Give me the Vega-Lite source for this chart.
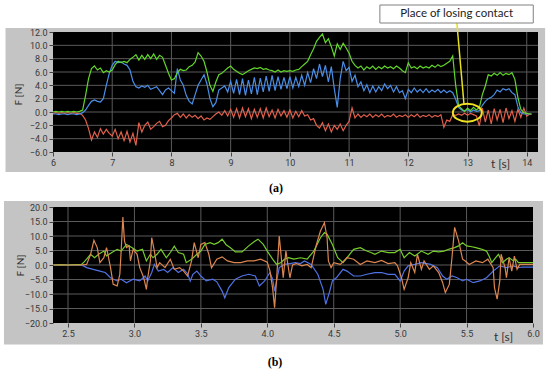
{
"$schema": "https://vega.github.io/schema/vega-lite/v6.json",
"background": "white",
"padding": {"left": 3, "top": 4, "right": 0, "bottom": 0},
"bounds": "flush",
"spacing": 55,
"config": {
  "view": {"stroke": null},
  "axis": {"domain": false, "grid": false, "labelFont": "Roboto", "labelFontSize": 9, "labelColor": "#383838", "tickColor": "#444444", "tickSize": 4, "labelPadding": 2, "titleFont": "Lato", "titleColor": "#333333", "titleFontWeight": "normal", "labelFlush": false, "labelOverlap": false}
},
"datasets": {
  "A": [
    {"t":6.00,"g":0.0,"b":-0.3,"r":-0.2},{"t":6.05,"g":0.1,"b":-0.3,"r":-0.1},{"t":6.10,"g":0.0,"b":-0.4,"r":-0.2},{"t":6.15,"g":0.1,"b":-0.3,"r":-0.1},
    {"t":6.20,"g":0.0,"b":-0.3,"r":-0.2},{"t":6.25,"g":0.1,"b":-0.4,"r":-0.1},{"t":6.30,"g":0.0,"b":-0.3,"r":-0.2},{"t":6.35,"g":0.1,"b":-0.3,"r":-0.1},
    {"t":6.40,"g":0.0,"b":-0.4,"r":-0.2},{"t":6.45,"g":0.1,"b":-0.3,"r":-0.2},{"t":6.50,"g":0.3,"b":-0.1,"r":-0.5},{"t":6.55,"g":2.5,"b":0.3,"r":-1.2},
    {"t":6.60,"g":5.0,"b":1.0,"r":-2.5},{"t":6.65,"g":6.5,"b":1.6,"r":-4.2},{"t":6.70,"g":6.9,"b":1.8,"r":-3.0},{"t":6.75,"g":6.3,"b":1.6,"r":-3.8},
    {"t":6.80,"g":6.6,"b":1.5,"r":-2.5},{"t":6.85,"g":5.9,"b":2.0,"r":-3.3},{"t":6.90,"g":6.2,"b":4.0,"r":-2.6},{"t":6.95,"g":6.0,"b":5.8,"r":-3.2},
    {"t":7.00,"g":6.3,"b":7.0,"r":-3.6},{"t":7.05,"g":7.1,"b":7.6,"r":-2.6},{"t":7.10,"g":7.6,"b":7.4,"r":-4.0},{"t":7.15,"g":7.4,"b":7.5,"r":-3.0},
    {"t":7.20,"g":7.6,"b":7.2,"r":-4.3},{"t":7.25,"g":7.4,"b":7.0,"r":-2.9},{"t":7.30,"g":7.9,"b":6.3,"r":-4.5},{"t":7.35,"g":8.2,"b":4.6,"r":-3.2},
    {"t":7.40,"g":8.6,"b":3.8,"r":-5.0},{"t":7.45,"g":7.8,"b":3.6,"r":-1.6},{"t":7.50,"g":8.5,"b":3.9,"r":-3.0},{"t":7.55,"g":7.9,"b":3.7,"r":-2.0},
    {"t":7.60,"g":8.6,"b":4.0,"r":-1.5},{"t":7.65,"g":8.0,"b":3.4,"r":-2.6},{"t":7.70,"g":8.7,"b":3.6,"r":-2.2},{"t":7.75,"g":7.9,"b":3.8,"r":-1.7},
    {"t":7.80,"g":8.5,"b":3.2,"r":-1.4},{"t":7.85,"g":8.2,"b":2.6,"r":-2.2},{"t":7.90,"g":7.0,"b":3.3,"r":-2.0},{"t":7.95,"g":5.8,"b":3.6,"r":-1.3},
    {"t":8.00,"g":4.8,"b":3.2,"r":-0.9},{"t":8.05,"g":5.0,"b":2.8,"r":-0.4},{"t":8.10,"g":5.9,"b":6.5,"r":-0.2},{"t":8.15,"g":6.4,"b":4.8,"r":-0.8},
    {"t":8.20,"g":6.2,"b":4.0,"r":-0.3},{"t":8.25,"g":6.3,"b":2.5,"r":-0.9},{"t":8.30,"g":6.8,"b":1.6,"r":-0.4},{"t":8.35,"g":7.0,"b":1.2,"r":-0.8},
    {"t":8.40,"g":7.5,"b":2.6,"r":-0.5},{"t":8.45,"g":8.9,"b":4.0,"r":-1.0},{"t":8.50,"g":8.4,"b":4.8,"r":-0.6},{"t":8.55,"g":7.6,"b":5.6,"r":-1.2},
    {"t":8.60,"g":6.0,"b":4.2,"r":-0.9},{"t":8.65,"g":4.0,"b":2.0,"r":-1.1},{"t":8.70,"g":3.1,"b":0.8,"r":-0.7},{"t":8.75,"g":4.5,"b":1.4,"r":-0.3},
    {"t":8.80,"g":5.6,"b":3.3,"r":0.0},{"t":8.85,"g":5.8,"b":3.6,"r":-0.5},{"t":8.90,"g":6.2,"b":3.9,"r":0.2},{"t":8.95,"g":6.6,"b":3.0,"r":-0.6},
    {"t":9.00,"g":6.9,"b":4.6,"r":0.4},{"t":9.05,"g":6.4,"b":2.8,"r":-0.8},{"t":9.10,"g":6.1,"b":4.9,"r":0.5},{"t":9.15,"g":5.8,"b":2.6,"r":-0.9},
    {"t":9.20,"g":5.6,"b":5.0,"r":0.6},{"t":9.25,"g":5.9,"b":2.5,"r":-0.7},{"t":9.30,"g":6.2,"b":4.8,"r":0.5},{"t":9.35,"g":6.4,"b":2.7,"r":-1.0},
    {"t":9.40,"g":6.6,"b":5.2,"r":0.4},{"t":9.45,"g":6.5,"b":2.6,"r":-0.8},{"t":9.50,"g":6.7,"b":5.1,"r":0.5},{"t":9.55,"g":6.4,"b":3.0,"r":-0.9},
    {"t":9.60,"g":6.5,"b":5.4,"r":0.6},{"t":9.65,"g":6.3,"b":3.1,"r":-0.7},{"t":9.70,"g":6.2,"b":5.5,"r":0.3},{"t":9.75,"g":6.0,"b":3.2,"r":-0.9},
    {"t":9.80,"g":6.3,"b":5.3,"r":0.4},{"t":9.85,"g":6.0,"b":3.4,"r":-0.6},{"t":9.90,"g":6.2,"b":5.2,"r":0.2},{"t":9.95,"g":6.1,"b":3.5,"r":-0.8},
    {"t":10.00,"g":6.2,"b":5.3,"r":0.3},{"t":10.05,"g":6.1,"b":3.6,"r":-0.9},{"t":10.10,"g":6.3,"b":5.2,"r":0.1},{"t":10.15,"g":6.4,"b":3.8,"r":-0.7},
    {"t":10.20,"g":6.8,"b":5.5,"r":0.2},{"t":10.25,"g":7.2,"b":4.0,"r":-0.6},{"t":10.30,"g":7.6,"b":5.9,"r":-0.4},{"t":10.35,"g":8.6,"b":4.4,"r":-1.2},
    {"t":10.40,"g":9.5,"b":6.5,"r":-1.0},{"t":10.45,"g":10.6,"b":5.0,"r":-2.0},{"t":10.50,"g":11.2,"b":7.2,"r":-2.4},{"t":10.55,"g":11.7,"b":5.3,"r":-1.6},
    {"t":10.60,"g":10.4,"b":7.0,"r":-2.8},{"t":10.65,"g":11.0,"b":4.5,"r":-1.8},{"t":10.70,"g":9.8,"b":6.8,"r":-3.0},{"t":10.75,"g":8.4,"b":3.5,"r":-2.0},
    {"t":10.80,"g":10.2,"b":0.7,"r":-2.6},{"t":10.85,"g":9.4,"b":5.0,"r":-1.8},{"t":10.90,"g":10.3,"b":7.6,"r":-2.8},{"t":10.95,"g":9.6,"b":6.2,"r":-2.0},
    {"t":11.00,"g":8.8,"b":6.7,"r":-1.4},{"t":11.05,"g":7.6,"b":4.6,"r":0.6},{"t":11.10,"g":7.0,"b":5.5,"r":-0.9},{"t":11.15,"g":6.6,"b":3.8,"r":-0.3},
    {"t":11.20,"g":6.9,"b":4.5,"r":-0.8},{"t":11.25,"g":6.3,"b":3.2,"r":-0.4},{"t":11.30,"g":6.8,"b":4.1,"r":-0.7},{"t":11.35,"g":6.5,"b":2.9,"r":-0.3},
    {"t":11.40,"g":6.9,"b":3.9,"r":-0.8},{"t":11.45,"g":6.4,"b":3.0,"r":-0.4},{"t":11.50,"g":6.8,"b":3.8,"r":-0.7},{"t":11.55,"g":6.5,"b":3.2,"r":-0.3},
    {"t":11.60,"g":6.9,"b":4.2,"r":-0.8},{"t":11.65,"g":6.6,"b":3.5,"r":-0.5},{"t":11.70,"g":6.8,"b":4.0,"r":-0.7},{"t":11.75,"g":6.5,"b":3.0,"r":-0.3},
    {"t":11.80,"g":6.9,"b":3.8,"r":-0.8},{"t":11.85,"g":6.6,"b":2.9,"r":-0.5},{"t":11.90,"g":6.2,"b":3.2,"r":-0.7},{"t":11.95,"g":5.9,"b":2.0,"r":-0.4},
    {"t":12.00,"g":7.4,"b":3.4,"r":-0.8},{"t":12.05,"g":6.6,"b":2.9,"r":-0.4},{"t":12.10,"g":6.8,"b":3.6,"r":-0.7},{"t":12.15,"g":6.5,"b":3.0,"r":-0.3},
    {"t":12.20,"g":6.9,"b":3.4,"r":-0.8},{"t":12.25,"g":6.6,"b":2.9,"r":-0.5},{"t":12.30,"g":6.8,"b":3.5,"r":-0.7},{"t":12.35,"g":6.6,"b":2.9,"r":-0.4},
    {"t":12.40,"g":7.0,"b":3.3,"r":-0.8},{"t":12.45,"g":6.7,"b":3.0,"r":-0.5},{"t":12.50,"g":7.1,"b":3.4,"r":-0.7},{"t":12.55,"g":6.8,"b":2.9,"r":-0.4},
    {"t":12.60,"g":7.0,"b":3.3,"r":-2.3},{"t":12.65,"g":7.3,"b":2.9,"r":-1.2},{"t":12.70,"g":7.6,"b":3.2,"r":-1.4},{"t":12.75,"g":8.4,"b":2.9,"r":-0.4},
    {"t":12.80,"g":4.0,"b":1.9,"r":-0.5},{"t":12.85,"g":0.9,"b":0.7,"r":-0.3},{"t":12.90,"g":0.5,"b":0.3,"r":-0.5},{"t":12.95,"g":0.1,"b":0.1,"r":-0.2},
    {"t":13.00,"g":0.6,"b":0.4,"r":-0.5},{"t":13.05,"g":0.2,"b":0.0,"r":-0.2},{"t":13.10,"g":0.7,"b":0.3,"r":-0.4},{"t":13.15,"g":0.3,"b":0.1,"r":-0.6},
    {"t":13.20,"g":0.7,"b":0.2,"r":-2.1},{"t":13.25,"g":2.6,"b":1.0,"r":0.6},{"t":13.30,"g":3.9,"b":1.6,"r":-1.5},{"t":13.35,"g":5.6,"b":2.0,"r":0.3},
    {"t":13.40,"g":5.4,"b":2.2,"r":-1.8},{"t":13.45,"g":5.8,"b":2.6,"r":0.5},{"t":13.50,"g":5.5,"b":3.3,"r":-1.2},{"t":13.55,"g":5.9,"b":3.0,"r":0.4},
    {"t":13.60,"g":5.5,"b":3.5,"r":-1.6},{"t":13.65,"g":5.8,"b":3.3,"r":0.6},{"t":13.70,"g":5.6,"b":3.5,"r":-1.0},{"t":13.75,"g":5.9,"b":2.9,"r":0.2},
    {"t":13.80,"g":4.9,"b":2.6,"r":-1.4},{"t":13.85,"g":2.2,"b":0.8,"r":0.4},{"t":13.90,"g":0.4,"b":-0.1,"r":-0.8},{"t":13.95,"g":-0.1,"b":-0.3,"r":0.6},
    {"t":14.00,"g":-0.2,"b":-0.3,"r":-0.6},{"t":14.05,"g":-0.3,"b":-0.3,"r":-0.3},{"t":14.08,"g":-0.3,"b":-0.3,"r":-0.3}
  ],
  "bG": [
    {"t":2.39,"F":0},{"t":2.45,"F":0.1},{"t":2.5,"F":0},{"t":2.55,"F":0.1},{"t":2.6,"F":0.1},{"t":2.62,"F":1.0},{"t":2.64,"F":2.0},{"t":2.67,"F":3.7},
    {"t":2.70,"F":2.5},{"t":2.73,"F":3.7},{"t":2.77,"F":4.8},{"t":2.79,"F":3.1},{"t":2.83,"F":4.3},{"t":2.87,"F":5.4},{"t":2.90,"F":4.8},{"t":2.94,"F":7.1},
    {"t":2.98,"F":6.0},{"t":3.02,"F":4.8},{"t":3.06,"F":5.4},{"t":3.09,"F":1.4},{"t":3.12,"F":3.7},{"t":3.14,"F":2.5},{"t":3.17,"F":3.7},{"t":3.20,"F":5.4},
    {"t":3.24,"F":2.5},{"t":3.27,"F":4.3},{"t":3.30,"F":6.5},{"t":3.33,"F":4.3},{"t":3.37,"F":3.7},{"t":3.39,"F":0.8},{"t":3.43,"F":2.0},{"t":3.47,"F":3.7},
    {"t":3.50,"F":4.8},{"t":3.53,"F":7.1},{"t":3.57,"F":7.7},{"t":3.60,"F":7.1},{"t":3.63,"F":7.7},{"t":3.66,"F":8.9},{"t":3.69,"F":7.0},{"t":3.72,"F":6.0},
    {"t":3.76,"F":4.5},{"t":3.81,"F":4.5},{"t":3.86,"F":6.6},{"t":3.90,"F":8.0},{"t":3.93,"F":8.9},{"t":3.97,"F":7.1},{"t":4.00,"F":4.8},{"t":4.04,"F":2.0},
    {"t":4.07,"F":0.2},{"t":4.10,"F":0.8},{"t":4.13,"F":2.0},{"t":4.16,"F":2.5},{"t":4.20,"F":2.0},{"t":4.25,"F":2.5},{"t":4.30,"F":2.0},{"t":4.35,"F":4.8},
    {"t":4.40,"F":9.4},{"t":4.43,"F":11.2},{"t":4.45,"F":10.6},{"t":4.49,"F":7.1},{"t":4.53,"F":2.5},{"t":4.57,"F":0.8},{"t":4.60,"F":2.5},{"t":4.65,"F":5.4},
    {"t":4.70,"F":6.0},{"t":4.74,"F":5.0},{"t":4.78,"F":4.3},{"t":4.81,"F":3.7},{"t":4.86,"F":4.8},{"t":4.91,"F":4.3},{"t":4.96,"F":4.3},{"t":5.00,"F":5.4},
    {"t":5.03,"F":2.5},{"t":5.07,"F":4.3},{"t":5.11,"F":3.1},{"t":5.16,"F":4.8},{"t":5.21,"F":3.7},{"t":5.25,"F":4.8},{"t":5.29,"F":4.5},{"t":5.33,"F":4.8},
    {"t":5.37,"F":5.5},{"t":5.41,"F":6.0},{"t":5.44,"F":6.6},{"t":5.47,"F":7.7},{"t":5.50,"F":6.6},{"t":5.54,"F":6.3},{"t":5.57,"F":6.0},{"t":5.61,"F":5.5},
    {"t":5.65,"F":4.8},{"t":5.67,"F":3.0},{"t":5.69,"F":0.8},{"t":5.71,"F":2.0},{"t":5.74,"F":3.7},{"t":5.77,"F":0.8},{"t":5.80,"F":2.0},{"t":5.82,"F":2.5},
    {"t":5.85,"F":1.5},{"t":5.87,"F":2.0},{"t":5.89,"F":0.8},{"t":5.92,"F":0.8},{"t":6.00,"F":0.8}
  ],
  "bB": [
    {"t":2.39,"F":0},{"t":2.5,"F":0},{"t":2.6,"F":0},{"t":2.62,"F":-0.4},{"t":2.64,"F":-0.9},{"t":2.69,"F":-1.5},{"t":2.74,"F":-2.1},{"t":2.78,"F":-2.6},
    {"t":2.82,"F":-4.4},{"t":2.87,"F":-5.5},{"t":2.90,"F":-4.9},{"t":2.94,"F":-6.1},{"t":2.99,"F":-4.9},{"t":3.04,"F":-5.5},{"t":3.08,"F":-3.8},{"t":3.10,"F":-5.5},
    {"t":3.13,"F":-2.6},{"t":3.15,"F":0.2},{"t":3.18,"F":-2.1},{"t":3.22,"F":-1.5},{"t":3.25,"F":-2.6},{"t":3.29,"F":-0.9},{"t":3.33,"F":-2.6},{"t":3.37,"F":-1.5},
    {"t":3.40,"F":-3.0},{"t":3.42,"F":-5.5},{"t":3.44,"F":-3.2},{"t":3.47,"F":-2.1},{"t":3.50,"F":-3.8},{"t":3.54,"F":-5.5},{"t":3.59,"F":-4.9},{"t":3.62,"F":-5.8},
    {"t":3.66,"F":-9.0},{"t":3.68,"F":-11.3},{"t":3.71,"F":-7.8},{"t":3.76,"F":-4.9},{"t":3.81,"F":-3.8},{"t":3.86,"F":-3.2},{"t":3.91,"F":-3.8},{"t":3.94,"F":-7.2},
    {"t":3.98,"F":-5.5},{"t":4.02,"F":-2.6},{"t":4.04,"F":-4.9},{"t":4.055,"F":-9.0},{"t":4.07,"F":-5.5},{"t":4.09,"F":-0.9},{"t":4.13,"F":0.2},{"t":4.17,"F":0.5},
    {"t":4.21,"F":0.8},{"t":4.25,"F":0.5},{"t":4.28,"F":1.4},{"t":4.33,"F":0.2},{"t":4.38,"F":-3.2},{"t":4.42,"F":-8.4},{"t":4.44,"F":-13.6},{"t":4.47,"F":-9.0},
    {"t":4.49,"F":-5.5},{"t":4.52,"F":-4.4},{"t":4.57,"F":-1.5},{"t":4.60,"F":-2.1},{"t":4.65,"F":-3.8},{"t":4.70,"F":-3.8},{"t":4.75,"F":-3.2},{"t":4.81,"F":-2.6},
    {"t":4.86,"F":-2.6},{"t":4.91,"F":-3.2},{"t":4.96,"F":-3.2},{"t":5.00,"F":-5.5},{"t":5.03,"F":-2.1},{"t":5.06,"F":-0.3},{"t":5.11,"F":0.2},{"t":5.16,"F":0.8},
    {"t":5.23,"F":0.2},{"t":5.28,"F":-0.9},{"t":5.32,"F":-3.8},{"t":5.35,"F":-4.9},{"t":5.39,"F":-3.8},{"t":5.43,"F":-4.4},{"t":5.47,"F":-5.5},{"t":5.50,"F":-4.9},
    {"t":5.55,"F":-6.1},{"t":5.60,"F":-5.5},{"t":5.65,"F":-4.4},{"t":5.70,"F":-2.1},{"t":5.75,"F":-0.3},{"t":5.80,"F":-0.9},{"t":5.85,"F":-0.3},{"t":5.89,"F":-0.9},
    {"t":5.92,"F":-0.7},{"t":6.00,"F":-0.7}
  ],
  "bR": [
    {"t":2.39,"F":0},{"t":2.5,"F":0},{"t":2.6,"F":0},{"t":2.64,"F":0.2},{"t":2.67,"F":3.7},{"t":2.695,"F":8.5},{"t":2.72,"F":6.0},{"t":2.74,"F":0.8},
    {"t":2.77,"F":2.5},{"t":2.79,"F":6.0},{"t":2.82,"F":-0.9},{"t":2.84,"F":-6.7},{"t":2.87,"F":-7.2},{"t":2.89,"F":-3.2},{"t":2.90,"F":4.8},{"t":2.913,"F":16.5},
    {"t":2.925,"F":8.3},{"t":2.94,"F":6.0},{"t":2.96,"F":6.6},{"t":2.97,"F":1.4},{"t":2.99,"F":5.4},{"t":3.02,"F":3.7},{"t":3.04,"F":-0.9},{"t":3.07,"F":-4.4},
    {"t":3.09,"F":-8.4},{"t":3.10,"F":-4.4},{"t":3.12,"F":1.4},{"t":3.13,"F":9.4},{"t":3.15,"F":4.8},{"t":3.17,"F":-0.9},{"t":3.19,"F":0.8},{"t":3.23,"F":-0.9},
    {"t":3.27,"F":2.0},{"t":3.30,"F":-1.5},{"t":3.34,"F":-0.9},{"t":3.37,"F":-2.1},{"t":3.40,"F":-3.8},{"t":3.43,"F":1.4},{"t":3.45,"F":7.7},{"t":3.48,"F":2.5},
    {"t":3.50,"F":7.1},{"t":3.53,"F":7.7},{"t":3.56,"F":3.7},{"t":3.58,"F":-1.0},{"t":3.62,"F":2.0},{"t":3.66,"F":2.8},{"t":3.70,"F":1.4},{"t":3.75,"F":0.8},
    {"t":3.80,"F":0.8},{"t":3.85,"F":1.4},{"t":3.90,"F":1.4},{"t":3.95,"F":2.0},{"t":4.00,"F":1.0},{"t":4.02,"F":-2.0},{"t":4.04,"F":-8.0},{"t":4.055,"F":-14.7},
    {"t":4.07,"F":-5.0},{"t":4.09,"F":10.0},{"t":4.12,"F":-4.4},{"t":4.14,"F":4.8},{"t":4.17,"F":-4.4},{"t":4.19,"F":0.0},{"t":4.22,"F":0.5},{"t":4.26,"F":-0.3},
    {"t":4.30,"F":0.2},{"t":4.33,"F":-0.9},{"t":4.37,"F":7.1},{"t":4.40,"F":11.7},{"t":4.43,"F":14.6},{"t":4.45,"F":9.4},{"t":4.46,"F":1.4},{"t":4.48,"F":-0.9},
    {"t":4.50,"F":0.8},{"t":4.55,"F":0.2},{"t":4.60,"F":2.5},{"t":4.65,"F":2.0},{"t":4.70,"F":0.2},{"t":4.75,"F":1.4},{"t":4.81,"F":0.8},{"t":4.86,"F":1.6},
    {"t":4.91,"F":0.5},{"t":4.96,"F":0.8},{"t":4.98,"F":-0.3},{"t":5.01,"F":-4.4},{"t":5.03,"F":-8.4},{"t":5.06,"F":-4.4},{"t":5.08,"F":0.8},{"t":5.11,"F":-2.6},
    {"t":5.13,"F":3.7},{"t":5.16,"F":-1.5},{"t":5.18,"F":1.4},{"t":5.22,"F":-1.5},{"t":5.25,"F":-0.3},{"t":5.29,"F":-2.6},{"t":5.32,"F":-6.1},{"t":5.34,"F":-9.5},
    {"t":5.37,"F":-6.7},{"t":5.39,"F":2.5},{"t":5.41,"F":13.0},{"t":5.44,"F":8.3},{"t":5.47,"F":2.0},{"t":5.49,"F":1.4},{"t":5.52,"F":0.2},{"t":5.57,"F":1.4},
    {"t":5.62,"F":0.8},{"t":5.66,"F":2.0},{"t":5.70,"F":-0.9},{"t":5.71,"F":-7.8},{"t":5.73,"F":-11.8},{"t":5.75,"F":-5.5},{"t":5.76,"F":3.7},{"t":5.79,"F":-0.9},
    {"t":5.80,"F":-4.4},{"t":5.82,"F":2.5},{"t":5.84,"F":-2.1},{"t":5.86,"F":3.1},{"t":5.88,"F":-1.5},{"t":5.90,"F":0.2},{"t":6.00,"F":0.2}
  ]
},
"vconcat": [
  {
    "width": 485, "height": 120,
    "resolve": {"axis": {"x": "independent", "y": "independent"}},
    "layer": [
      {"data": {"values": [{}]}, "mark": {"type": "rect", "color": "#c4c4c4"},
       "encoding": {
         "x": {"datum": 5.198, "type": "quantitative", "scale": {"domain": [6, 14.19], "nice": false, "zero": false},
               "axis": {"zindex": 2, "labelOverlap": false, "labelFlush": false, "labelBound": false, "values": [6,7,8,9,10,11,12,13,14], "format": "d", "title": "t [s]", "titleFontSize": 12, "titleX": 447, "titleY": 11, "titleAlign": "center", "titleBaseline": "middle", "titleAngle": 0}},
         "x2": {"datum": 14.31},
         "y": {"datum": 12.6, "type": "quantitative", "scale": {"domain": [-6, 12], "nice": false, "zero": false},
               "axis": {"zindex": 2, "labelOverlap": false, "labelFlush": false, "labelBound": false, "values": [-6,-4,-2,0,2,4,6,8,10,12], "format": ".1f", "title": "F [N]", "titleFontSize": 10, "titleX": -35, "titleY": 62, "titleAlign": "center", "titleBaseline": "middle", "titleAngle": -90}},
         "y2": {"datum": -9.0}}},
      {"data": {"values": [{}]}, "mark": {"type": "rect", "color": "#000000"},
       "encoding": {
         "x": {"datum": 6, "type": "quantitative", "scale": {"domain": [6, 14.19], "nice": false, "zero": false}, "axis": null},
         "x2": {"datum": 14.19},
         "y": {"datum": -6, "type": "quantitative", "scale": {"domain": [-6, 12], "nice": false, "zero": false}, "axis": null},
         "y2": {"datum": 12}}},
      {"data": {"values": [{"v":7},{"v":8},{"v":9},{"v":10},{"v":11},{"v":12},{"v":13},{"v":14}]},
       "mark": {"type": "rule", "color": "#5a5a5a", "strokeWidth": 1},
       "encoding": {"x": {"field": "v", "type": "quantitative", "scale": {"domain": [6, 14.19], "nice": false, "zero": false}, "axis": null}}},
      {"data": {"values": [{"v":-4},{"v":-2},{"v":0},{"v":2},{"v":4},{"v":6},{"v":8},{"v":10}]},
       "mark": {"type": "rule", "color": "#5a5a5a", "strokeWidth": 1},
       "encoding": {"y": {"field": "v", "type": "quantitative", "scale": {"domain": [-6, 12], "nice": false, "zero": false}, "axis": null}}},
      {"data": {"name": "A"}, "mark": {"type": "line", "color": "#e2604c", "strokeWidth": 1.2},
       "encoding": {"x": {"field": "t", "type": "quantitative", "scale": {"domain": [6, 14.19], "nice": false, "zero": false}, "axis": null},
                    "y": {"field": "r", "type": "quantitative", "scale": {"domain": [-6, 12], "nice": false, "zero": false}, "axis": null}}},
      {"data": {"name": "A"}, "mark": {"type": "line", "color": "#4a8ee8", "strokeWidth": 1.2},
       "encoding": {"x": {"field": "t", "type": "quantitative", "scale": {"domain": [6, 14.19], "nice": false, "zero": false}, "axis": null},
                    "y": {"field": "b", "type": "quantitative", "scale": {"domain": [-6, 12], "nice": false, "zero": false}, "axis": null}}},
      {"data": {"name": "A"}, "mark": {"type": "line", "color": "#62d62a", "strokeWidth": 1.2},
       "encoding": {"x": {"field": "t", "type": "quantitative", "scale": {"domain": [6, 14.19], "nice": false, "zero": false}, "axis": null},
                    "y": {"field": "g", "type": "quantitative", "scale": {"domain": [-6, 12], "nice": false, "zero": false}, "axis": null}}},
      {"data": {"values": [{}]}, "mark": {"type": "rule", "color": "#e6e01e", "strokeWidth": 1.5},
       "encoding": {
         "x": {"datum": 12.82, "type": "quantitative", "scale": {"domain": [6, 14.19], "nice": false, "zero": false}, "axis": null},
         "x2": {"datum": 12.94},
         "y": {"datum": 13.35, "type": "quantitative", "scale": {"domain": [-6, 12], "nice": false, "zero": false}, "axis": null},
         "y2": {"datum": 1.2}}},
      {"data": {"values": [{}]}, "mark": {"type": "point", "shape": "M -1 0 A 1 0.62 0 1 1 1 0 A 1 0.62 0 1 1 -1 0 Z", "size": 841, "filled": false, "color": "#eee024", "strokeWidth": 2, "opacity": 1},
       "encoding": {
         "x": {"datum": 12.997, "type": "quantitative", "scale": {"domain": [6, 14.19], "nice": false, "zero": false}, "axis": null},
         "y": {"datum": -0.1, "type": "quantitative", "scale": {"domain": [-6, 12], "nice": false, "zero": false}, "axis": null}}},
      {"data": {"values": [{}]}, "mark": {"type": "rect", "fill": "#ffffff", "stroke": "#808080", "strokeWidth": 1},
       "encoding": {
         "x": {"datum": 11.52, "type": "quantitative", "scale": {"domain": [6, 14.19], "nice": false, "zero": false}, "axis": null},
         "x2": {"datum": 14.11},
         "y": {"datum": 16.05, "type": "quantitative", "scale": {"domain": [-6, 12], "nice": false, "zero": false}, "axis": null},
         "y2": {"datum": 13.35}}},
      {"data": {"values": [{}]}, "mark": {"type": "text", "text": "Place of losing contact", "font": "Lato", "fontSize": 11.5, "color": "#222222", "align": "center", "baseline": "middle"},
       "encoding": {
         "x": {"datum": 12.816, "type": "quantitative", "scale": {"domain": [6, 14.19], "nice": false, "zero": false}, "axis": null},
         "y": {"datum": 14.7, "type": "quantitative", "scale": {"domain": [-6, 12], "nice": false, "zero": false}, "axis": null}}},
      {"data": {"values": [{}]}, "mark": {"type": "text", "text": "(a)", "font": "Liberation Serif", "fontSize": 12, "fontWeight": "bold", "color": "#000000", "align": "center", "baseline": "middle"},
       "encoding": {
         "x": {"datum": 9.767, "type": "quantitative", "scale": {"domain": [6, 14.19], "nice": false, "zero": false}, "axis": null},
         "y": {"datum": -11.47, "type": "quantitative", "scale": {"domain": [-6, 12], "nice": false, "zero": false}, "axis": null}}}
    ]
  },
  {
    "width": 480, "height": 116,
    "resolve": {"axis": {"x": "independent", "y": "independent"}},
    "layer": [
      {"data": {"values": [{}]}, "mark": {"type": "rect", "color": "#c4c4c4"},
       "encoding": {
         "x": {"datum": 2.018, "type": "quantitative", "scale": {"domain": [2.387, 6.0], "nice": false, "zero": false},
               "axis": {"zindex": 2, "labelOverlap": false, "labelFlush": false, "labelBound": false, "values": [2.5,3.0,3.5,4.0,4.5,5.0,5.5,6.0], "format": ".1f", "title": "t [s]", "titleFontSize": 12, "titleX": 450, "titleY": 13, "titleAlign": "center", "titleBaseline": "middle", "titleAngle": 0}},
         "x2": {"datum": 6.075},
         "y": {"datum": 22.07, "type": "quantitative", "scale": {"domain": [-20, 20], "nice": false, "zero": false},
               "axis": {"zindex": 2, "labelOverlap": false, "labelFlush": false, "labelBound": false, "values": [-20,-15,-10,-5,0,5,10,15,20], "format": ".1f", "title": "F [N]", "titleFontSize": 10, "titleX": -32.5, "titleY": 58, "titleAlign": "center", "titleBaseline": "middle", "titleAngle": -90}},
         "y2": {"datum": -27.4}}},
      {"data": {"values": [{}]}, "mark": {"type": "rect", "color": "#000000"},
       "encoding": {
         "x": {"datum": 2.387, "type": "quantitative", "scale": {"domain": [2.387, 6.0], "nice": false, "zero": false}, "axis": null},
         "x2": {"datum": 6.0},
         "y": {"datum": -20, "type": "quantitative", "scale": {"domain": [-20, 20], "nice": false, "zero": false}, "axis": null},
         "y2": {"datum": 20}}},
      {"data": {"values": [{"v":2.5},{"v":3.0},{"v":3.5},{"v":4.0},{"v":4.5},{"v":5.0},{"v":5.5}]},
       "mark": {"type": "rule", "color": "#5a5a5a", "strokeWidth": 1},
       "encoding": {"x": {"field": "v", "type": "quantitative", "scale": {"domain": [2.387, 6.0], "nice": false, "zero": false}, "axis": null}}},
      {"data": {"values": [{"v":-15},{"v":-10},{"v":-5},{"v":0},{"v":5},{"v":10},{"v":15}]},
       "mark": {"type": "rule", "color": "#5a5a5a", "strokeWidth": 1},
       "encoding": {"y": {"field": "v", "type": "quantitative", "scale": {"domain": [-20, 20], "nice": false, "zero": false}, "axis": null}}},
      {"data": {"name": "bB"}, "mark": {"type": "line", "color": "#5072e6", "strokeWidth": 1.2},
       "encoding": {"x": {"field": "t", "type": "quantitative", "scale": {"domain": [2.387, 6.0], "nice": false, "zero": false}, "axis": null},
                    "y": {"field": "F", "type": "quantitative", "scale": {"domain": [-20, 20], "nice": false, "zero": false}, "axis": null}}},
      {"data": {"name": "bG"}, "mark": {"type": "line", "color": "#76cc2c", "strokeWidth": 1.2},
       "encoding": {"x": {"field": "t", "type": "quantitative", "scale": {"domain": [2.387, 6.0], "nice": false, "zero": false}, "axis": null},
                    "y": {"field": "F", "type": "quantitative", "scale": {"domain": [-20, 20], "nice": false, "zero": false}, "axis": null}}},
      {"data": {"name": "bR"}, "mark": {"type": "line", "color": "#dc8650", "strokeWidth": 1.2},
       "encoding": {"x": {"field": "t", "type": "quantitative", "scale": {"domain": [2.387, 6.0], "nice": false, "zero": false}, "axis": null},
                    "y": {"field": "F", "type": "quantitative", "scale": {"domain": [-20, 20], "nice": false, "zero": false}, "axis": null}}},
      {"data": {"values": [{}]}, "mark": {"type": "text", "text": "(b)", "font": "Liberation Serif", "fontSize": 12, "fontWeight": "bold", "color": "#000000", "align": "center", "baseline": "middle"},
       "encoding": {
         "x": {"datum": 4.058, "type": "quantitative", "scale": {"domain": [2.387, 6.0], "nice": false, "zero": false}, "axis": null},
         "y": {"datum": -33.45, "type": "quantitative", "scale": {"domain": [-20, 20], "nice": false, "zero": false}, "axis": null}}}
    ]
  }
]
}
